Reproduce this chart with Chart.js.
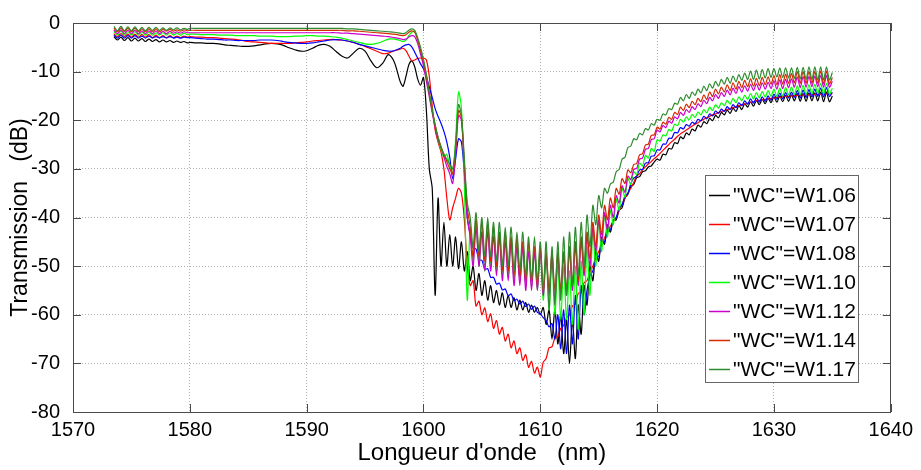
<!DOCTYPE html>
<html>
<head>
<meta charset="utf-8">
<title>Transmission</title>
<script src="https://cdn.jsdelivr.net/npm/chart.js@4.4.1/dist/chart.umd.min.js"></script>
<style>
  html, body { margin: 0; padding: 0; background: #fff; }
</style>
</head>
<body>
<canvas id="spectre" width="921" height="470"></canvas>
<script>
// sampling grid (nm)
const wavelengths = [
  1573.5, 1573.8, 1574.1, 1574.4, 1574.7, 1575.0, 1575.3, 1575.6, 1575.9, 1576.2, 1576.5,
  1576.8, 1577.1, 1577.4, 1577.7, 1578.0, 1578.3, 1578.6, 1578.9, 1579.2, 1579.5, 1579.8,
  1580, 1580.5, 1581, 1581.5, 1582, 1582.5, 1583, 1583.5, 1584, 1584.5, 1585, 1585.5,
  1586, 1586.5, 1587, 1587.5, 1588, 1588.5, 1589, 1589.5, 1590, 1590.5, 1591, 1591.5,
  1592, 1592.5, 1593, 1593.5, 1594, 1594.5, 1595, 1595.5, 1596, 1596.5, 1597, 1597.5,
  1598, 1598.25, 1598.5, 1598.75, 1599, 1599.25, 1599.5, 1599.75,
  1600, 1600.25, 1600.5, 1600.75, 1601, 1601.25, 1601.5, 1601.75,
  1602, 1602.25, 1602.5, 1602.75, 1603, 1603.25, 1603.5, 1603.75,
  1604, 1604.25, 1604.5, 1604.75, 1605, 1605.25, 1605.5, 1605.75,
  1606, 1606.25, 1606.5, 1606.75, 1607, 1607.25, 1607.5, 1607.75,
  1608, 1608.25, 1608.5, 1608.75, 1609, 1609.25, 1609.5, 1609.75,
  1610, 1610.25, 1610.5, 1610.75, 1611, 1611.25, 1611.5, 1611.75,
  1612, 1612.25, 1612.5, 1612.75, 1613, 1613.25, 1613.5, 1613.75,
  1614, 1614.25, 1614.5, 1614.75, 1615, 1615.25, 1615.5, 1615.75,
  1616, 1616.25, 1616.5, 1616.75, 1617, 1617.25, 1617.5, 1617.75,
  1618, 1618.25, 1618.5, 1618.75, 1619, 1619.25, 1619.5, 1619.75,
  1620, 1620.25, 1620.5, 1620.75, 1621, 1621.25, 1621.5, 1621.75,
  1622, 1622.25, 1622.5, 1622.75, 1623, 1623.25, 1623.5, 1623.75,
  1624, 1624.25, 1624.5, 1624.75, 1625, 1625.25, 1625.5, 1625.75,
  1626, 1626.25, 1626.5, 1626.75, 1627, 1627.25, 1627.5, 1627.75,
  1628, 1628.25, 1628.5, 1628.75, 1629, 1629.25, 1629.5, 1629.75,
  1630, 1630.25, 1630.5, 1630.75, 1631, 1631.25, 1631.5, 1631.75,
  1632, 1632.25, 1632.5, 1632.75, 1633, 1633.25, 1633.5, 1633.75,
  1634, 1634.25, 1634.5, 1634.75, 1635
];

// transmission (dB) for each waveguide width
const wc106 = [
  -2.8, -3.5, -2.9, -3.6, -3.0, -3.7, -3.1, -3.7, -3.2, -3.8, -3.3,
  -3.8, -3.4, -3.9, -3.5, -3.9, -3.6, -4.0, -3.7, -4.0, -3.8, -4.1,
  -4.0, -4.1, -4.1, -4.2, -4.2, -4.3, -4.5, -4.6, -4.7, -4.8, -4.8, -4.7,
  -4.5, -4.3, -4.2, -4.3, -4.6, -5.1, -5.5, -5.8, -5.7, -5.2, -4.6, -4.4,
  -4.8, -5.8, -6.8, -7.2, -6.2, -5.2, -5.8, -7.8, -9.2, -8.3, -6.5, -8.0,
  -12.0, -13.0, -11.0, -8.6, -7.8, -9.0, -11.5, -12.8,
  -11.2, -18.0, -30.0, -34.0, -56.0, -36.0, -50.0, -41.0,
  -50.0, -43.5, -50.0, -44.0, -50.5, -45.0, -51.0, -47.0,
  -53.0, -50.0, -55.0, -51.5, -56.0, -53.0, -57.0, -54.0,
  -57.5, -55.0, -58.0, -55.5, -58.5, -56.0, -58.5, -56.5,
  -59.0, -57.0, -59.0, -57.5, -59.5, -58.0, -59.5, -58.5,
  -60.0, -58.5, -62.0, -59.0, -65.0, -59.0, -66.0, -60.0,
  -68.0, -61.0, -70.0, -61.0, -69.0, -58.0, -64.0, -54.0,
  -58.0, -50.0, -53.0, -47.0, -49.0, -44.0, -45.5, -41.5,
  -43.0, -40.5, -40.5, -38.5, -38.0, -36.0, -35.2, -33.6,
  -33.2, -31.8, -31.6, -30.6, -30.4, -29.6, -29.4, -28.6,
  -28.0, -28.2, -27.0, -27.1, -25.8, -25.9, -24.6, -24.8,
  -23.4, -23.8, -22.6, -23.0, -21.8, -22.2, -21.0, -21.4,
  -20.3, -20.7, -19.6, -20.1, -19.0, -19.5, -18.4, -18.9,
  -17.9, -18.6, -17.5, -18.2, -17.0, -17.8, -16.6, -17.3,
  -16.2, -17.1, -15.9, -16.8, -15.7, -16.6, -15.5, -16.4,
  -15.2, -16.3, -15.0, -16.2, -14.9, -16.1, -14.8, -16.0,
  -14.5, -16.1, -14.5, -16.1, -14.4, -16.0, -14.4, -16.0,
  -14.2, -16.2, -14.2, -16.2, -15.0
];

const wc107 = [
  -2.2, -2.8, -2.2, -2.8, -2.3, -2.9, -2.3, -2.9, -2.4, -2.9, -2.4,
  -3.0, -2.5, -3.0, -2.6, -3.0, -2.6, -3.0, -2.7, -3.0, -2.7, -2.9,
  -2.8, -2.9, -2.9, -3.0, -3.0, -3.1, -3.2, -3.3, -3.4, -3.6, -3.8, -3.9,
  -4.0, -4.1, -4.2, -4.2, -4.2, -4.2, -4.1, -4.0, -3.9, -3.7, -3.6, -3.5,
  -3.4, -3.4, -3.5, -3.7, -4.0, -4.4, -4.8, -5.3, -5.8, -6.3, -6.2, -5.7,
  -5.4, -5.2, -5.7, -6.8, -7.8, -7.6, -7.3, -7.2,
  -7.2, -7.6, -11.0, -17.0, -22.0, -24.5, -26.5, -30.0,
  -36.0, -40.5, -38.0, -36.0, -34.0, -35.0, -40.5, -50.0,
  -54.0, -53.0, -58.2, -57.2, -60.0, -58.6, -61.4, -59.8,
  -62.8, -61.2, -64.0, -62.6, -65.4, -64.0, -66.8, -65.4,
  -68.0, -66.8, -69.4, -68.2, -70.8, -69.6, -72.0, -70.8,
  -72.8, -69.8, -69.0, -66.8, -66.6, -64.8, -64.5, -62.8,
  -62.2, -60.6, -60.0, -58.2, -57.8, -55.6, -55.4, -53.4,
  -53.0, -51.2, -50.0, -48.3, -47.0, -45.6, -44.2, -42.8,
  -41.8, -40.8, -40.0, -38.5, -37.3, -36.0, -35.0, -34.0,
  -32.8, -31.5, -31.0, -30.2, -29.6, -29.0, -28.5, -27.9,
  -27.4, -26.8, -26.2, -25.6, -25.0, -24.4, -23.9, -23.3,
  -22.8, -22.4, -22.0, -21.6, -21.2, -20.8, -20.5, -20.1,
  -19.8, -19.5, -19.2, -18.9, -18.7, -18.4, -18.2, -18.0,
  -17.8, -17.6, -17.4, -17.2, -17.0, -16.8, -16.7, -16.5,
  -16.3, -16.2, -16.0, -15.9, -15.8, -15.7, -15.6, -15.5,
  -15.4, -15.3, -15.3, -15.2, -15.1, -15.1, -15.0, -15.0,
  -14.9, -14.9, -14.8, -14.8, -14.8, -14.7, -14.7, -14.7,
  -14.7, -14.6, -14.6, -14.6, -14.6
];

const wc108 = [
  -2.5, -3.1, -2.5, -3.1, -2.6, -3.1, -2.6, -3.1, -2.7, -3.1, -2.7,
  -3.1, -2.8, -3.1, -2.8, -3.1, -2.8, -3.1, -2.9, -3.1, -2.9, -3.0,
  -3.0, -3.1, -3.2, -3.3, -3.3, -3.4, -3.5, -3.5, -3.6, -3.6, -3.6, -3.6,
  -3.5, -3.5, -3.5, -3.6, -3.8, -4.0, -4.1, -4.2, -4.2, -4.1, -3.9, -3.7,
  -3.5, -3.4, -3.5, -3.7, -4.0, -4.4, -4.7, -5.0, -5.3, -5.6, -5.8, -5.7,
  -5.2, -4.8, -4.5, -4.4, -4.9, -6.0, -7.2, -8.4,
  -9.4, -11.0, -13.2, -15.3, -17.6, -19.2, -20.6, -22.3,
  -24.5, -27.6, -32.0, -28.0, -23.8, -24.5, -31.0, -40.0,
  -43.5, -46.3, -46.5, -48.7, -48.8, -50.7, -50.5, -52.3,
  -52.3, -53.7, -53.5, -54.9, -54.7, -56.1, -55.7, -57.1,
  -56.8, -57.8, -57.2, -58.3, -57.8, -58.9, -58.2, -59.5,
  -59.8, -60.6, -61.2, -62.5, -61.8, -65.0, -60.0, -67.0,
  -59.0, -68.0, -58.0, -66.0, -56.0, -65.0, -54.0, -60.0,
  -55.0, -52.0, -51.0, -48.5, -48.0, -45.5, -45.0, -43.0,
  -42.5, -40.5, -40.0, -38.0, -37.5, -35.5, -35.0, -33.0,
  -31.9, -31.5, -30.2, -30.1, -28.8, -28.7, -27.4, -27.3,
  -26.1, -26.1, -24.9, -24.9, -23.7, -23.7, -22.5, -22.6,
  -21.5, -21.8, -20.9, -21.2, -20.4, -20.7, -19.8, -20.1,
  -19.2, -19.7, -18.7, -19.1, -18.1, -18.6, -17.7, -18.2,
  -17.2, -17.8, -16.8, -17.4, -16.4, -17.0, -16.0, -16.7,
  -15.6, -16.5, -15.4, -16.3, -15.2, -16.1, -15.0, -15.9,
  -14.6, -15.7, -14.4, -15.6, -14.3, -15.4, -14.2, -15.3,
  -13.9, -15.4, -13.8, -15.3, -13.7, -15.2, -13.6, -15.1,
  -13.4, -15.2, -13.3, -15.1, -14.2
];

const wc110 = [
  -1.7, -2.5, -1.7, -2.5, -1.8, -2.5, -1.8, -2.5, -1.9, -2.5, -1.9,
  -2.5, -2.0, -2.5, -2.0, -2.5, -2.0, -2.5, -2.1, -2.5, -2.1, -2.4,
  -2.3, -2.3, -2.4, -2.4, -2.4, -2.5, -2.5, -2.5, -2.6, -2.6, -2.6, -2.6,
  -2.7, -2.7, -2.7, -2.8, -2.8, -2.8, -2.7, -2.7, -2.6, -2.6, -2.7, -2.7,
  -2.8, -2.9, -3.1, -3.4, -3.7, -4.0, -4.3, -4.4, -4.2, -3.8, -3.3, -3.3,
  -3.6, -3.8, -3.5, -2.6, -1.9, -1.8, -3.5, -6.0,
  -8.2, -11.2, -14.4, -17.8, -21.0, -24.0, -26.0, -27.5,
  -27.0, -29.5, -31.0, -24.0, -14.2, -17.5, -33.0, -57.0,
  -42.0, -49.0, -41.0, -50.0, -43.0, -51.0, -42.0, -50.0,
  -43.0, -51.0, -44.0, -52.0, -44.0, -52.0, -45.0, -53.0,
  -45.0, -53.0, -46.0, -54.0, -46.0, -54.0, -47.0, -55.0,
  -47.0, -57.0, -48.0, -59.0, -49.0, -60.0, -50.0, -61.0,
  -50.0, -61.0, -51.0, -62.0, -50.0, -63.0, -49.0, -60.0,
  -46.0, -56.0, -43.0, -50.0, -41.0, -47.0, -39.5, -44.0,
  -38.5, -41.5, -36.2, -38.5, -34.0, -35.8, -32.0, -33.2,
  -30.6, -31.2, -28.8, -29.4, -27.2, -27.8, -25.8, -26.4,
  -24.0, -24.3, -23.0, -23.2, -21.9, -22.2, -20.8, -21.1,
  -19.8, -20.4, -19.3, -19.9, -18.8, -19.4, -18.3, -18.9,
  -17.8, -18.5, -17.3, -18.0, -16.8, -17.5, -16.4, -17.0,
  -15.9, -16.7, -15.5, -16.4, -15.2, -16.0, -14.9, -15.7,
  -14.5, -15.6, -14.3, -15.4, -14.1, -15.2, -13.9, -15.1,
  -13.6, -15.1, -13.4, -15.0, -13.3, -14.8, -13.2, -14.7,
  -12.9, -14.8, -12.8, -14.7, -12.7, -14.6, -12.6, -14.5,
  -12.4, -14.6, -12.4, -14.6, -13.4
];

const wc112 = [
  -1.4, -2.2, -1.4, -2.2, -1.5, -2.2, -1.5, -2.2, -1.6, -2.2, -1.6,
  -2.2, -1.6, -2.2, -1.7, -2.2, -1.7, -2.1, -1.8, -2.1, -1.8, -2.0,
  -2.0, -2.0, -2.0, -2.0, -2.0, -2.0, -2.0, -2.0, -2.0, -2.0, -2.0, -2.0,
  -2.0, -2.0, -2.0, -2.0, -2.0, -2.0, -2.0, -2.0, -2.0, -2.0, -2.0, -2.0,
  -2.0, -2.0, -2.1, -2.1, -2.2, -2.3, -2.4, -2.5, -2.6, -2.7, -2.8, -3.0,
  -3.2, -3.4, -3.3, -2.9, -2.6, -2.8, -4.2, -6.4,
  -8.8, -12.0, -15.2, -18.5, -21.5, -24.0, -25.5, -27.5,
  -29.5, -31.0, -33.0, -27.0, -19.0, -20.0, -30.0, -40.0,
  -44.0, -50.0, -42.0, -50.0, -43.0, -51.0, -43.0, -51.0,
  -44.0, -52.0, -44.0, -53.0, -45.0, -53.0, -45.0, -54.0,
  -46.0, -54.0, -46.0, -55.0, -47.0, -55.0, -47.0, -55.0,
  -47.0, -56.0, -48.0, -56.0, -48.0, -57.0, -48.0, -56.0,
  -48.0, -56.0, -47.0, -55.0, -46.0, -54.0, -45.0, -52.0,
  -44.0, -50.0, -42.0, -47.0, -40.5, -45.0, -39.0, -42.5,
  -37.5, -40.0, -35.5, -37.0, -33.5, -34.8, -31.5, -32.2,
  -30.1, -29.9, -28.0, -27.8, -26.0, -25.8, -24.0, -23.8,
  -22.0, -22.4, -21.1, -21.5, -20.2, -20.6, -19.3, -19.7,
  -18.4, -19.0, -17.8, -18.4, -17.2, -17.8, -16.6, -17.2,
  -15.9, -16.6, -15.3, -16.0, -14.7, -15.5, -14.3, -15.1,
  -13.8, -14.8, -13.4, -14.5, -13.1, -14.2, -12.9, -14.0,
  -12.6, -13.9, -12.5, -13.8, -12.3, -13.6, -12.2, -13.5,
  -11.9, -13.6, -11.7, -13.5, -11.6, -13.3, -11.5, -13.2,
  -11.1, -13.3, -11.0, -13.2, -11.0, -13.1, -10.9, -13.1,
  -10.8, -13.2, -10.8, -13.2, -12.0
];

const wc114 = [
  -1.0, -1.8, -1.0, -1.8, -1.1, -1.8, -1.1, -1.8, -1.2, -1.8, -1.2,
  -1.8, -1.2, -1.8, -1.3, -1.7, -1.3, -1.7, -1.4, -1.7, -1.4, -1.6,
  -1.5, -1.5, -1.5, -1.5, -1.5, -1.5, -1.5, -1.5, -1.5, -1.5, -1.5, -1.5,
  -1.5, -1.5, -1.5, -1.5, -1.5, -1.5, -1.5, -1.5, -1.5, -1.5, -1.5, -1.5,
  -1.5, -1.5, -1.5, -1.6, -1.6, -1.7, -1.8, -1.9, -2.0, -2.1, -2.2, -2.3,
  -2.5, -2.6, -2.4, -1.9, -1.6, -1.9, -3.4, -5.6,
  -8.0, -11.0, -14.5, -18.0, -21.0, -23.5, -25.5, -27.0,
  -28.5, -30.0, -31.0, -26.0, -18.0, -19.5, -29.0, -38.0,
  -42.0, -48.0, -40.0, -48.0, -41.0, -49.0, -41.0, -49.0,
  -42.0, -50.0, -43.0, -51.0, -43.0, -51.0, -44.0, -52.0,
  -44.0, -52.0, -45.0, -53.0, -45.0, -53.0, -46.0, -54.0,
  -46.0, -55.0, -47.0, -55.0, -47.0, -55.0, -47.0, -55.0,
  -47.0, -55.0, -46.0, -54.0, -45.0, -53.0, -44.0, -51.0,
  -43.0, -48.5, -41.0, -46.0, -39.5, -43.5, -37.5, -40.5,
  -36.0, -38.0, -34.0, -35.2, -32.0, -33.0, -30.2, -30.8,
  -29.1, -28.9, -27.1, -26.9, -25.1, -24.9, -23.1, -23.0,
  -21.4, -21.8, -20.4, -20.8, -19.4, -19.8, -18.4, -18.8,
  -17.3, -18.0, -16.7, -17.4, -16.1, -16.8, -15.5, -16.2,
  -14.8, -15.7, -14.2, -15.1, -13.6, -14.6, -13.2, -14.2,
  -12.7, -13.9, -12.3, -13.6, -12.0, -13.3, -11.8, -13.1,
  -11.5, -13.0, -11.4, -12.9, -11.2, -12.7, -11.1, -12.6,
  -10.8, -12.7, -10.6, -12.6, -10.5, -12.4, -10.4, -12.3,
  -10.0, -12.4, -10.0, -12.4, -10.0, -12.4, -10.0, -12.4,
  -9.9, -12.5, -9.9, -12.5, -11.2
];

const wc117 = [
  -0.7, -1.6, -0.7, -1.6, -0.8, -1.6, -0.8, -1.6, -0.9, -1.6, -0.9,
  -1.5, -0.9, -1.5, -1.0, -1.5, -1.0, -1.4, -1.0, -1.4, -1.1, -1.3,
  -1.1, -1.1, -1.1, -1.1, -1.1, -1.1, -1.1, -1.1, -1.1, -1.1, -1.1, -1.1,
  -1.1, -1.1, -1.1, -1.1, -1.1, -1.1, -1.1, -1.1, -1.1, -1.1, -1.1, -1.1,
  -1.1, -1.1, -1.1, -1.2, -1.2, -1.3, -1.4, -1.5, -1.6, -1.7, -1.8, -1.9,
  -2.1, -2.2, -2.0, -1.5, -1.2, -1.5, -3.0, -5.0,
  -7.5, -10.5, -14.5, -18.0, -21.0, -23.5, -25.5, -27.0,
  -28.0, -29.0, -30.0, -25.0, -16.8, -19.0, -28.0, -37.0,
  -40.0, -46.0, -39.0, -47.0, -40.0, -48.0, -40.0, -48.0,
  -41.0, -49.0, -41.0, -50.0, -42.0, -50.0, -42.0, -51.0,
  -43.0, -51.0, -43.0, -52.0, -44.0, -53.0, -44.0, -53.0,
  -45.0, -55.0, -45.0, -59.0, -46.0, -58.0, -45.0, -57.0,
  -44.0, -56.0, -43.0, -54.0, -42.0, -52.0, -41.0, -50.0,
  -39.5, -46.0, -37.5, -41.5, -35.5, -38.0, -34.0, -35.0,
  -33.1, -32.7, -30.6, -30.1, -28.0, -27.6, -25.6, -25.3,
  -23.8, -24.0, -22.7, -23.0, -21.7, -22.0, -20.7, -21.0,
  -19.8, -20.0, -18.7, -18.9, -17.6, -17.8, -16.5, -16.7,
  -15.3, -16.0, -14.7, -15.5, -14.2, -14.9, -13.6, -14.4,
  -13.0, -13.9, -12.5, -13.4, -12.0, -13.0, -11.6, -12.6,
  -11.2, -12.4, -10.9, -12.1, -10.6, -11.8, -10.3, -11.6,
  -9.9, -11.6, -9.7, -11.5, -9.6, -11.3, -9.4, -11.2,
  -9.4, -11.1, -9.3, -11.2, -9.2, -11.3, -9.2, -11.4,
  -9.1, -11.5, -9.1, -11.6, -9.0, -11.6, -9.0, -11.7,
  -9.0, -11.7, -9.0, -11.7, -10.2
];

const seriesLabels = ['"WC"=W1.06', '"WC"=W1.07', '"WC"=W1.08', '"WC"=W1.10', '"WC"=W1.12', '"WC"=W1.14', '"WC"=W1.17'];
const xTicks = [1570, 1580, 1590, 1600, 1610, 1620, 1630, 1640];
const yTicks = [0, -10, -20, -30, -40, -50, -60, -70, -80];

const series = [wc106, wc107, wc108, wc110, wc112, wc114, wc117];
const colors = ['#000000', '#ff0000', '#0000ff', '#00ff00', '#cc00cc', '#d42a00', '#2e8b2e'];
const FONT = '"Liberation Sans", Arial, Helvetica, sans-serif';

const datasets = series.map((vals, i) => ({
  label: seriesLabels[i],
  data: wavelengths.map((w, k) => ({ x: w, y: vals[k] })),
  borderColor: colors[i],
  borderWidth: 1.2,
  pointRadius: 0,
  tension: 0.3,
  fill: false,
  order: series.length - i   // last width ends up on top
}));

// box around the plot, inward ticks and the legend panel
const frame = {
  id: 'frame',
  afterDatasetsDraw(chart) {
    const { ctx, chartArea: a, scales: { x, y } } = chart;
    ctx.save();
    ctx.strokeStyle = '#4a4a4a';
    ctx.lineWidth = 1;
    ctx.beginPath();
    xTicks.forEach(v => {
      const px = Math.round(x.getPixelForValue(v)) + 0.5;
      ctx.moveTo(px, a.bottom); ctx.lineTo(px, a.bottom - 8);
      ctx.moveTo(px, a.top); ctx.lineTo(px, a.top + 8);
    });
    yTicks.forEach(v => {
      const py = Math.round(y.getPixelForValue(v)) + 0.5;
      ctx.moveTo(a.left, py); ctx.lineTo(a.left + 8, py);
      ctx.moveTo(a.right, py); ctx.lineTo(a.right - 8, py);
    });
    ctx.stroke();
    ctx.strokeRect(Math.round(a.left) + 0.5, Math.round(a.top) + 0.5,
                   Math.round(a.width) - 1, Math.round(a.height));

    // legend
    const bx = 705, by = 175, bw = 153, bh = 207;
    ctx.fillStyle = '#fff';
    ctx.fillRect(bx, by, bw, bh);
    ctx.strokeStyle = '#666';
    ctx.strokeRect(bx + 0.5, by + 0.5, bw, bh);
    ctx.font = '21px ' + FONT;
    ctx.textBaseline = 'middle';
    ctx.textAlign = 'left';
    chart.data.datasets.forEach((ds, i) => {
      const ly = by + 20 + i * 29;
      ctx.strokeStyle = ds.borderColor;
      ctx.lineWidth = 1.5;
      ctx.beginPath();
      ctx.moveTo(bx + 4, ly + 0.5);
      ctx.lineTo(bx + 25, ly + 0.5);
      ctx.stroke();
      ctx.fillStyle = '#000';
      ctx.fillText(ds.label, bx + 28, ly + 1);
    });
    ctx.restore();
  }
};

new Chart(document.getElementById('spectre'), {
  type: 'line',
  data: { datasets },
  plugins: [frame],
  options: {
    responsive: false,
    animation: false,
    events: [],
    layout: { padding: { left: 0, right: 26, top: 11, bottom: 0 } },
    plugins: { legend: { display: false }, tooltip: { enabled: false } },
    scales: {
      x: {
        type: 'linear',
        min: 1570,
        max: 1640,
        afterBuildTicks: s => { s.ticks = xTicks.map(v => ({ value: v })); },
        afterFit: s => { s.height = 58; },
        grid: { color: '#b0b0b0', lineWidth: 1, drawTicks: false },
        border: { display: false, dash: [1, 2] },
        ticks: {
          color: '#000',
          padding: 8,
          font: { family: FONT, size: 20, lineHeight: 1 },
          callback: v => String(v)
        },
        title: {
          display: true,
          text: "Longueur d'onde   (nm)",
          color: '#000',
          font: { family: FONT, size: 24, lineHeight: 1.2 },
          padding: { top: 0, bottom: 2 }
        }
      },
      y: {
        type: 'linear',
        min: -80,
        max: 0,
        afterBuildTicks: s => { s.ticks = yTicks.map(v => ({ value: v })); },
        afterFit: s => { s.width = 73; },
        grid: { color: '#b0b0b0', lineWidth: 1, drawTicks: false },
        border: { display: false, dash: [1, 2] },
        ticks: {
          color: '#000',
          padding: 13,
          font: { family: FONT, size: 20, lineHeight: 1 },
          callback: v => String(v)
        },
        title: {
          display: true,
          text: 'Transmission   (dB)',
          color: '#000',
          font: { family: FONT, size: 23, lineHeight: 1.2 },
          padding: { top: 7, bottom: 0 }
        }
      }
    }
  }
});
</script>
</body>
</html>
